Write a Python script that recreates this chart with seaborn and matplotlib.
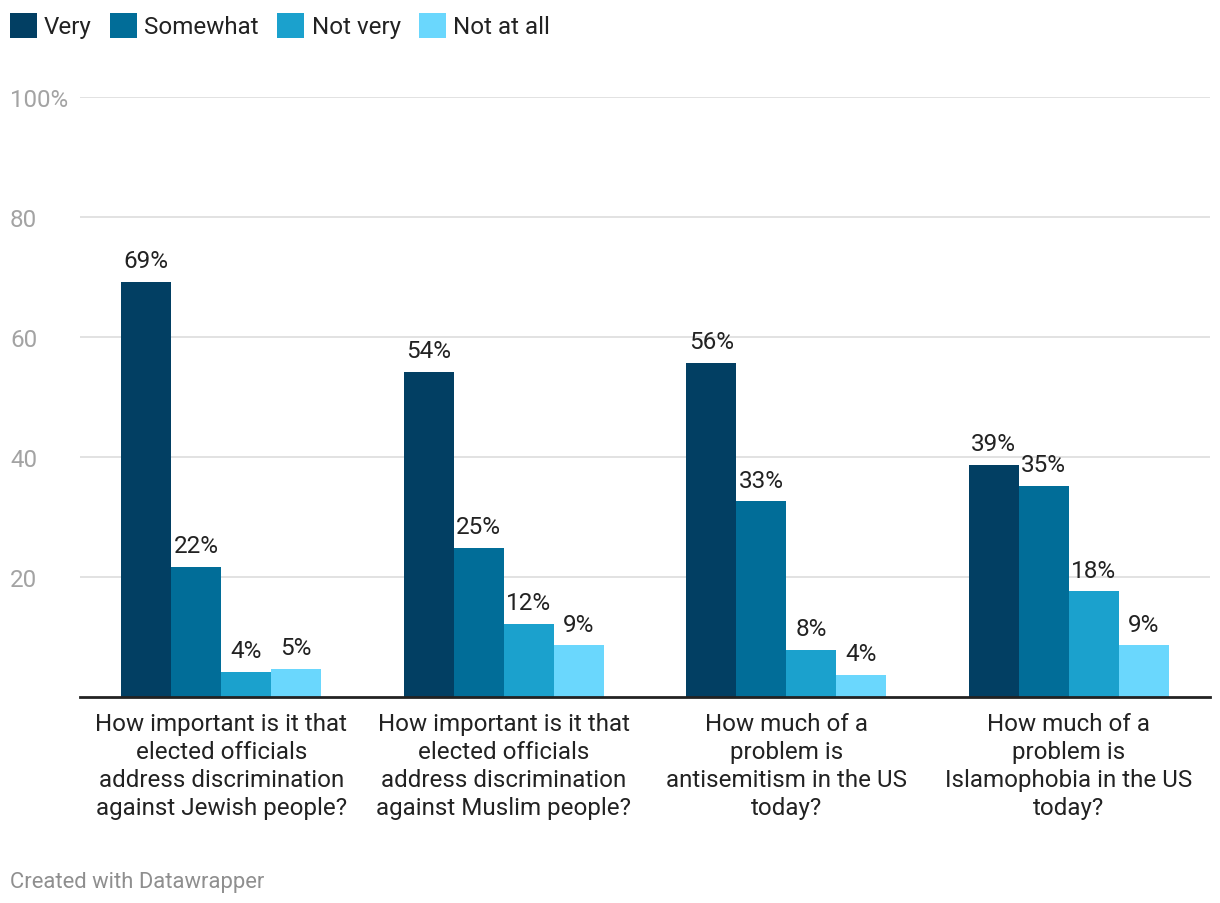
import pandas as pd
import seaborn as sns
import matplotlib.pyplot as plt

# values (bar heights), labels shown rounded
questions = [
    "How important is it that\nelected officials\naddress discrimination\nagainst Jewish people?",
    "How important is it that\nelected officials\naddress discrimination\nagainst Muslim people?",
    "How much of a\nproblem is\nantisemitism in the US\ntoday?",
    "How much of a\nproblem is\nIslamophobia in the US\ntoday?",
]
answers = ["Very", "Somewhat", "Not very", "Not at all"]
very = [69.2, 54.2, 55.7, 38.7]
somewhat = [21.7, 24.8, 32.6, 35.2]
not_very = [4.2, 12.2, 7.8, 17.6]
not_at_all = [4.7, 8.6, 3.7, 8.6]
colors = ["#023f63", "#016d98", "#1ba1cd", "#6ad7fd"]

rows = []
for name, vals in zip(answers, [very, somewhat, not_very, not_at_all]):
    for q, v in zip(questions, vals):
        rows.append({"question": q, "answer": name, "value": v})
df = pd.DataFrame(rows)

sns.set_style("white")
plt.rcParams["font.family"] = ["Roboto", "DejaVu Sans"]

fig = plt.figure(figsize=(12.2, 9.04), dpi=100)
ax = fig.add_axes([0.0656, 0.2279, 0.9262, 0.6637])

sns.barplot(data=df, x="question", y="value", hue="answer", hue_order=answers,
            order=questions, palette=colors, width=0.708, gap=0, saturation=1,
            linewidth=0, ax=ax, legend=True)

for cont in ax.containers:
    ax.bar_label(cont, labels=[f"{round(b.get_height())}%" for b in cont],
                 padding=7, fontsize=17.5, color="#222222")

ax.set_xlim(-0.5, 3.5)
ax.set_ylim(0, 100)
ax.set_yticks([20, 40, 60, 80, 100])
ax.set_yticklabels(["20", "40", "60", "80", "100%"])
ax.grid(axis="y", color="#e2e2e2", linewidth=1.4)
ax.set_axisbelow(True)
for s in ["top", "right", "left"]:
    ax.spines[s].set_visible(False)
ax.spines["bottom"].set_color("#222222")
ax.spines["bottom"].set_linewidth(2)
ax.tick_params(axis="y", length=0, pad=50.4, labelsize=17.4, labelcolor="#a3a3a3")
for t in ax.get_yticklabels():
    t.set_horizontalalignment("left")
ax.tick_params(axis="x", length=0, pad=11, labelsize=17.4, labelcolor="#222222")
for t in ax.get_xticklabels():
    t.set_linespacing(1.28)
    t.set_multialignment("center")
ax.set_xlabel("")
ax.set_ylabel("")

handles, labels = ax.get_legend_handles_labels()
ax.legend_.remove()
fig.legend(handles, labels, loc="upper left", bbox_to_anchor=(0.0, 0.9956), ncol=4,
           frameon=False, fontsize=17.4, handlelength=1.12, handleheight=1.23,
           handletextpad=0.3, columnspacing=0.76, borderaxespad=0, borderpad=0.4,
           labelcolor="#222222")

fig.text(0.008, 0.018, "Created with Datawrapper", fontsize=15.8, color="#8f8f8f")

fig.savefig("out.png", dpi=100)
